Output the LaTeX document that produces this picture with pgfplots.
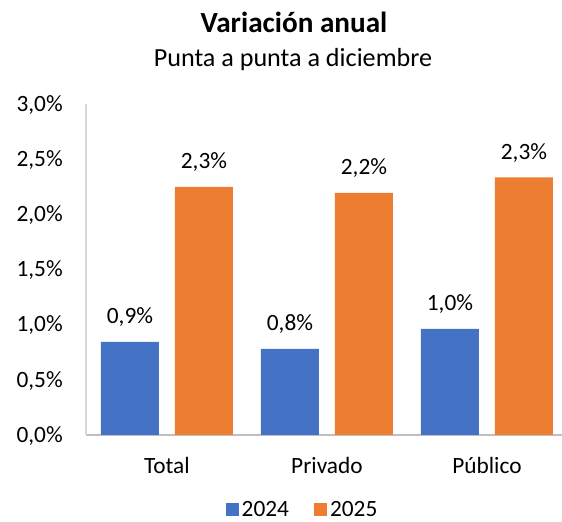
\documentclass[border=0pt]{standalone}
\usepackage{pgfplots}
\pgfplotsset{compat=1.18}
\usepackage{fontspec}
\setmainfont{Carlito}
\definecolor{cblue}{HTML}{4472C4}
\definecolor{corange}{HTML}{ED7D31}
\definecolor{xaxgray}{HTML}{BFBFBF}
\definecolor{yaxgray}{HTML}{D9D9D9}
\begin{document}
\begin{tikzpicture}
\useasboundingbox (0,0) rectangle (421.5pt,391.5pt);
\node[font=\bfseries\fontsize{21.9}{26}\selectfont, anchor=base, inner sep=0pt] at (220.5pt,366.75pt) {Variación anual};
\node[font=\fontsize{19.6}{23}\selectfont, anchor=base, inner sep=0pt] at (219.75pt,341.25pt) {Punta a punta a diciembre};
\begin{axis}[
  at={(64.5pt,65.25pt)}, anchor=south west,
  scale only axis, width=357pt, height=248.25pt,
  xmin=-0.506, xmax=2.469, ymin=0, ymax=3,
  axis x line*=bottom, axis y line*=left,
  x axis line style={draw=xaxgray, line width=1pt, -},
  y axis line style={draw=yaxgray, line width=1pt, -},
  major tick length=0pt,
  xtick={0,1,2}, xticklabels={Total,Privado,Público},
  ytick={0,0.5,1,1.5,2,2.5,3},
  yticklabels={{0,0\%},{0,5\%},{1,0\%},{1,5\%},{2,0\%},{2,5\%},{3,0\%}},
  tick label style={font=\fontsize{17.5}{21}\selectfont},
  xticklabel style={anchor=base, inner sep=0pt, yshift=-29pt},
  yticklabel style={anchor=base east, inner sep=0pt, xshift=-17.25pt, yshift=-5.5pt},
  ybar, bar width=43.5pt,
  nodes near coords, point meta=explicit symbolic,
  every node near coord/.append style={anchor=base, inner sep=0pt, yshift=13.5pt, font=\fontsize{17.5}{21}\selectfont, black},
  legend columns=2,
  legend style={draw=none, fill=none, font=\fontsize{17.5}{21}\selectfont,
    at={(0.456,0)}, anchor=center, yshift=-56pt,
    /tikz/every even column/.append style={column sep=17pt}},
]
\addplot[fill=cblue, draw=none, bar shift=-27.75pt,
  legend image code/.code={\fill[cblue] (-2pt,-4.875pt) rectangle (7.75pt,4.875pt);}]
  coordinates {(0,0.843)[0{,}9\%] (1,0.78)[0{,}8\%] (2,0.961)[1{,}0\%]};
\addplot[fill=corange, draw=none, bar shift=27.75pt,
  legend image code/.code={\fill[corange] (-2pt,-4.875pt) rectangle (7.75pt,4.875pt);}]
  coordinates {(0,2.248)[2{,}3\%] (1,2.194)[2{,}2\%] (2,2.335)[2{,}3\%]};
\legend{2024,2025}
\end{axis}
\end{tikzpicture}
\end{document}
